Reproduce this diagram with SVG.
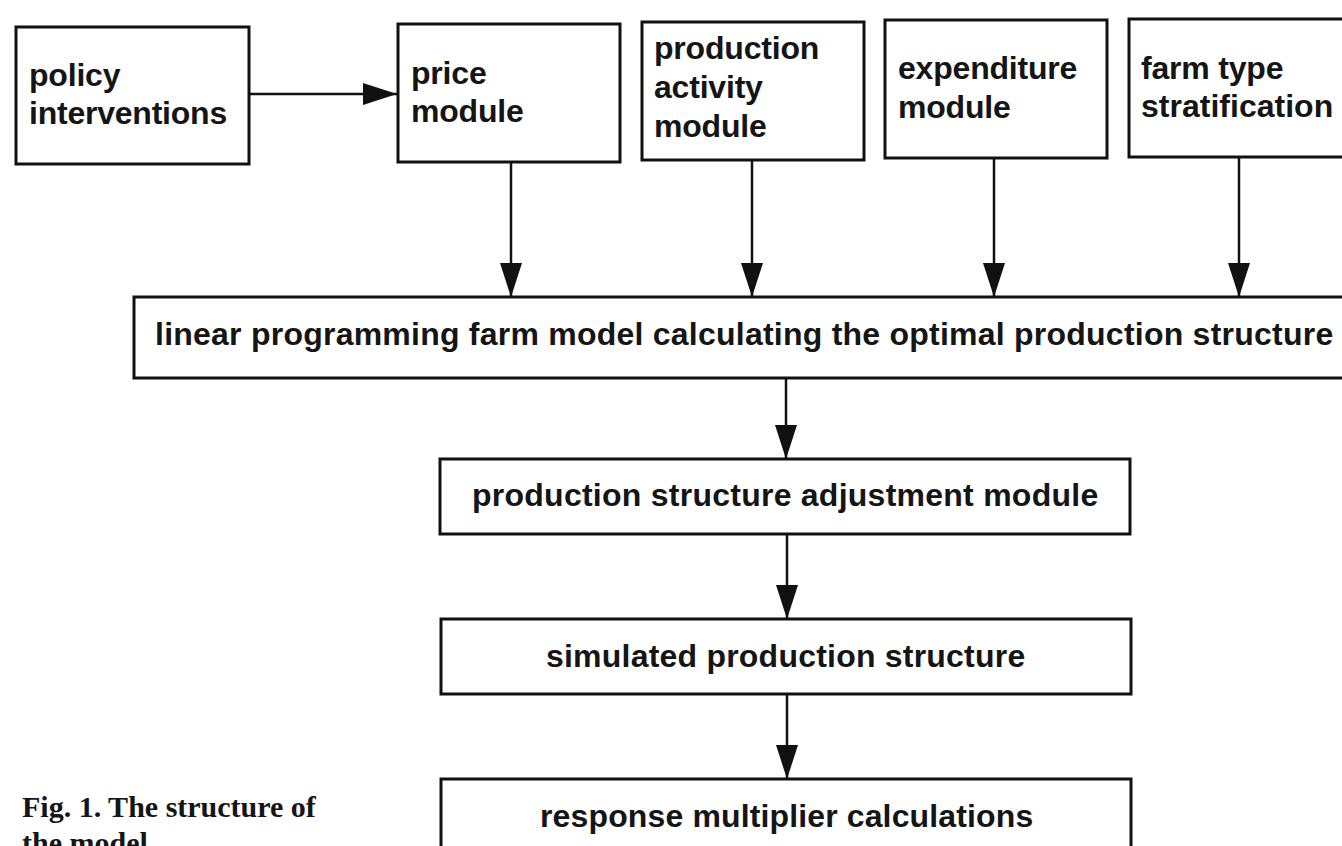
<svg xmlns="http://www.w3.org/2000/svg" width="1342" height="846" viewBox="0 0 1342 846">
  <style>
    .box { fill: #ffffff; stroke: #111111; stroke-width: 3; }
    .lbl { font-family: "Liberation Sans", Arial, Helvetica, sans-serif; font-weight: bold; font-size: 32px; fill: #151515; letter-spacing: -0.2px; }
    .mid { text-anchor: middle; }
    .cap { font-family: "Liberation Serif", "Times New Roman", serif; font-weight: bold; font-size: 30px; fill: #151515; }
    .edge { stroke: #111111; stroke-width: 2.5; fill: none; marker-end: url(#head); }
  </style>
  <defs>
    <marker id="head" markerUnits="userSpaceOnUse" markerWidth="34" markerHeight="22" refX="34" refY="11" orient="auto">
      <path d="M0,0 L34,11 L0,22 Z" fill="#111111"/>
    </marker>
  </defs>

  <rect x="0" y="0" width="1342" height="846" fill="#ffffff"/>

  <!-- connectors -->
  <g id="connectors">
    <line class="edge" x1="249" y1="94" x2="397" y2="94"/>
    <line class="edge" x1="511" y1="162" x2="511" y2="297"/>
    <line class="edge" x1="752" y1="160" x2="752" y2="297"/>
    <line class="edge" x1="994" y1="158" x2="994" y2="297"/>
    <line class="edge" x1="1239" y1="157" x2="1239" y2="297"/>
    <line class="edge" x1="786" y1="378" x2="786" y2="459"/>
    <line class="edge" x1="787" y1="534" x2="787" y2="619"/>
    <line class="edge" x1="787" y1="694" x2="787" y2="779"/>
  </g>

  <!-- top row inputs -->
  <g id="policy-interventions">
    <rect class="box" x="16" y="27" width="233" height="137"/>
    <text class="lbl" x="29" y="86">policy</text>
    <text class="lbl" x="29" y="124" textLength="198">interventions</text>
  </g>
  <g id="price-module">
    <rect class="box" x="398" y="24" width="222" height="138"/>
    <text class="lbl" x="411" y="84">price</text>
    <text class="lbl" x="411" y="122">module</text>
  </g>
  <g id="production-activity-module">
    <rect class="box" x="642" y="22" width="222" height="138"/>
    <text class="lbl" x="654" y="59">production</text>
    <text class="lbl" x="654" y="98">activity</text>
    <text class="lbl" x="654" y="137">module</text>
  </g>
  <g id="expenditure-module">
    <rect class="box" x="885" y="20" width="222" height="138"/>
    <text class="lbl" x="898" y="79">expenditure</text>
    <text class="lbl" x="898" y="118">module</text>
  </g>
  <g id="farm-type-stratification">
    <rect class="box" x="1129" y="19" width="230" height="138"/>
    <text class="lbl" x="1141" y="79">farm type</text>
    <text class="lbl" x="1141" y="117" textLength="192">stratification</text>
  </g>

  <!-- central pipeline -->
  <g id="lp-farm-model">
    <rect class="box" x="134" y="297" width="1230" height="81"/>
    <text class="lbl" x="155" y="345" textLength="1178">linear programming farm model calculating the optimal production structure</text>
  </g>
  <g id="adjustment-module">
    <rect class="box" x="440" y="459" width="690" height="75"/>
    <text class="lbl" x="472" y="506" textLength="626">production structure adjustment module</text>
  </g>
  <g id="simulated-structure">
    <rect class="box" x="441" y="619" width="690" height="75"/>
    <text class="lbl" x="546" y="667" textLength="479">simulated production structure</text>
  </g>
  <g id="response-multipliers">
    <rect class="box" x="441" y="779" width="690" height="90"/>
    <text class="lbl" x="540" y="827" textLength="493">response multiplier calculations</text>
  </g>

  <!-- caption -->
  <g id="caption">
    <text class="cap" x="22" y="817">Fig. 1. The structure of</text>
    <text class="cap" x="22" y="853">the model</text>
  </g>
</svg>
